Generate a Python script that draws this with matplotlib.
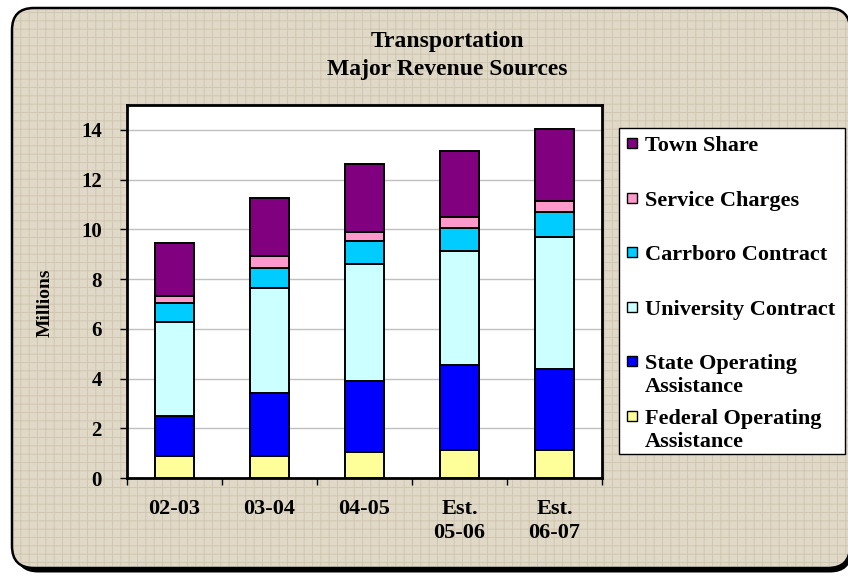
import matplotlib
matplotlib.use("Agg")
import matplotlib.pyplot as plt
from matplotlib.patches import FancyBboxPatch, Rectangle

# Transportation - major revenue sources (millions)
years = ["02-03", "03-04", "04-05", "Est.\n05-06", "Est.\n06-07"]
federal = [0.90, 0.90, 1.04, 1.11, 1.11]
state = [1.60, 2.50, 2.88, 3.42, 3.27]
university = [3.77, 4.23, 4.69, 4.60, 5.30]
carrboro = [0.76, 0.82, 0.91, 0.92, 1.02]
service = [0.28, 0.47, 0.36, 0.44, 0.42]
town = [2.13, 2.34, 2.75, 2.66, 2.93]

series_names = ["Federal Operating\nAssistance", "State Operating\nAssistance",
                "University Contract", "Carrboro Contract",
                "Service Charges", "Town Share"]
series_values = [federal, state, university, carrboro, service, town]
series_colors = ["#FFFF99", "#0000FF", "#CCFFFF", "#00CCFF", "#FF99CC", "#800080"]

plt.rcParams["font.family"] = ["Liberation Serif", "DejaVu Serif"]
plt.rcParams["font.weight"] = "bold"

W, H = 848, 576
fig = plt.figure(figsize=(W / 100, H / 100), dpi=100)
fig.patch.set_facecolor("white")


def fx(x):
    return x / W


def fy(y):
    return 1 - y / H


# rounded textured frame with a drop shadow (behind the axes)
shadow = FancyBboxPatch((0.16, 0.035), 8.36, 5.60, boxstyle="round,pad=0,rounding_size=0.22",
                        transform=fig.dpi_scale_trans, facecolor="black", edgecolor="none",
                        zorder=-3)
frame = FancyBboxPatch((0.12, 0.08), 8.38, 5.60, boxstyle="round,pad=0,rounding_size=0.22",
                       transform=fig.dpi_scale_trans, facecolor="#E1D9C8", edgecolor="black",
                       linewidth=1.8, zorder=-2)
plt.rcParams["hatch.linewidth"] = 0.7
texture = FancyBboxPatch((0.14, 0.10), 8.34, 5.56, boxstyle="round,pad=0,rounding_size=0.2",
                         transform=fig.dpi_scale_trans, facecolor="none", edgecolor="#D0C6B1",
                         linewidth=0, hatch="++", zorder=-1)
for p in (shadow, frame, texture):
    fig.patches.append(p)

# plot area
ax = fig.add_axes([fx(127), fy(478), fx(602) - fx(127), fy(105) - fy(478)])
ax.set_facecolor("white")

x = range(len(years))
bottom = [0.0] * len(years)
for name, vals, col in zip(series_names, series_values, series_colors):
    ax.bar(x, vals, width=0.42, bottom=bottom, color=col, edgecolor="black",
           linewidth=1.4, label=name, zorder=3)
    bottom = [b + v for b, v in zip(bottom, vals)]

ax.set_xlim(-0.5, len(years) - 0.5)
ax.set_ylim(0, 15)
ax.set_yticks(range(0, 15, 2))
ax.yaxis.grid(True, color="#C0C0C0", linewidth=1.0, zorder=0)
ax.set_axisbelow(True)

ax.set_xticks([i - 0.5 for i in range(len(years) + 1)])
ax.set_xticklabels([])
ax.set_xticks(list(x), minor=True)
ax.set_xticklabels(years, minor=True, fontsize=16, fontweight="bold", linespacing=1.3)
ax.tick_params(axis="x", which="major", direction="out", length=5, width=1)
ax.tick_params(axis="x", which="minor", length=0, pad=15)
ax.tick_params(axis="y", direction="out", length=5, width=1, pad=13, labelsize=15)
for t in ax.get_yticklabels():
    t.set_fontweight("bold")

for s in ax.spines.values():
    s.set_linewidth(2.0)
    s.set_color("black")

ax.set_ylabel("Millions", fontsize=14, fontweight="bold")
ax.yaxis.set_label_coords((54 - 127) / (602 - 127), 0.47)

# title
fig.text(fx(447), fy(47), "Transportation", ha="center", va="baseline",
         fontsize=17, fontweight="bold")
fig.text(fx(447), fy(75), "Major Revenue Sources", ha="center", va="baseline",
         fontsize=17, fontweight="bold")

# legend box, drawn to match the original layout (top entry first)
fig.patches.append(Rectangle((fx(619), fy(454)), fx(845) - fx(619), fy(128) - fy(454),
                             transform=fig.transFigure, facecolor="white",
                             edgecolor="black", linewidth=1.0))
step = 54.6
for i, (name, col) in enumerate(zip(series_names[::-1], series_colors[::-1])):
    yc = 143 + i * step
    fig.patches.append(Rectangle((fx(627), fy(yc + 5)), fx(10), 10 / H,
                                 transform=fig.transFigure, facecolor=col,
                                 edgecolor="black", linewidth=1.0))
    fig.text(fx(645), fy(yc + 8), name.split("\n")[0], ha="left", va="baseline",
             fontsize=16, fontweight="bold")
    if "\n" in name:
        fig.text(fx(645), fy(yc + 31), name.split("\n")[1], ha="left", va="baseline",
                 fontsize=16, fontweight="bold")

fig.savefig("out.png", dpi=100)
